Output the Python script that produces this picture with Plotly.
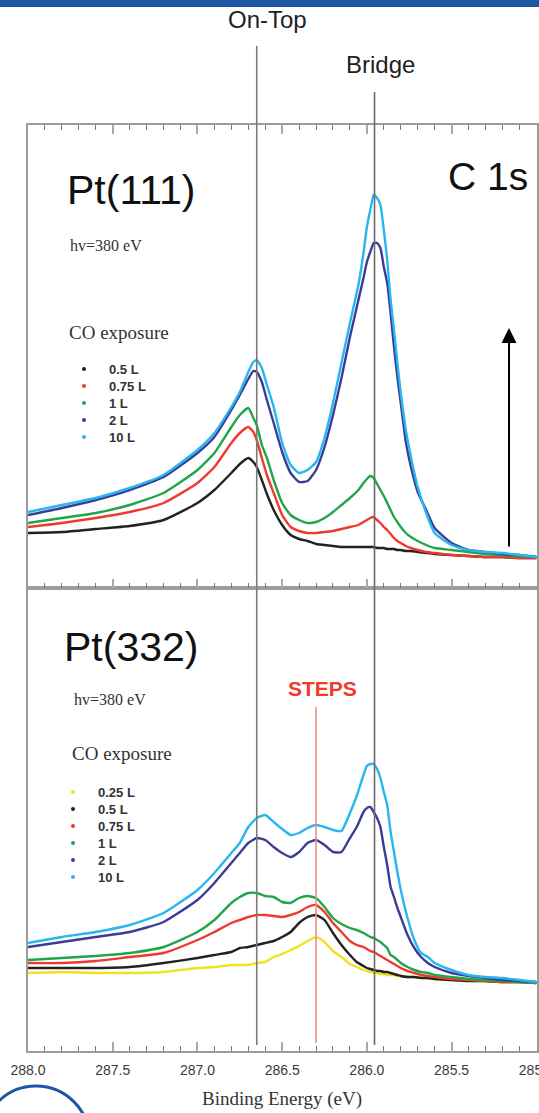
import plotly.graph_objects as go

# ---------------- data (binding energy in eV, intensity in a.u.) ----------------
be_111 = [288.0, 287.8, 287.6, 287.4, 287.2, 287.0, 286.9, 286.8, 286.75, 286.7,
          286.67, 286.65, 286.62, 286.59, 286.55, 286.5, 286.45, 286.4, 286.35, 286.3,
          286.25, 286.2, 286.15, 286.1, 286.05, 286.02, 286.0, 285.98, 285.96, 285.94,
          285.92, 285.9, 285.88, 285.86, 285.84, 285.82, 285.8, 285.77, 285.74, 285.7,
          285.65, 285.6, 285.5, 285.4, 285.3, 285.2, 285.1, 285.0]
pt111_05L = [55, 56, 59, 62, 68, 85, 98, 115, 124, 130, 126, 121, 108, 94, 78, 63, 53, 49, 47, 44,
             43, 42, 41, 41, 41, 41, 41, 41, 41, 40, 40, 40, 39, 39, 39, 38, 38, 37, 37, 36,
             35, 34, 33, 32, 31, 31, 30, 30]
pt111_075L = [61, 65, 70, 76, 85, 105, 121, 145, 155, 161, 156, 148, 130, 113, 95, 73, 61, 57, 55, 55,
              56, 57, 59, 61, 63, 66, 68, 70, 71, 68, 65, 61, 58, 54, 50, 47, 45, 42, 40, 38,
              36, 35, 33, 32, 31, 31, 30, 30]
pt111_1L = [65, 70, 75, 83, 95, 118, 135, 161, 173, 180, 170, 163, 143, 130, 108, 85, 73, 68, 65, 66,
            70, 76, 83, 90, 98, 105, 109, 112, 110, 104, 98, 92, 85, 78, 71, 66, 61, 55, 51, 47,
            43, 40, 38, 36, 34, 33, 32, 31]
pt111_2L = [73, 80, 88, 98, 111, 135, 151, 178, 193, 209, 217, 216, 206, 188, 165, 136, 115, 106, 107, 118,
            141, 173, 210, 251, 288, 310, 326, 336, 345, 345, 340, 321, 305, 275, 241, 211, 185, 146, 121, 96,
            78, 60, 45, 38, 36, 34, 33, 31]
pt111_10L = [76, 83, 90, 100, 113, 138, 155, 181, 196, 216, 226, 228, 220, 203, 181, 145, 123, 115, 118, 126,
             150, 185, 225, 265, 303, 335, 361, 378, 393, 390, 383, 358, 328, 288, 258, 225, 195, 158, 131, 101,
             75, 55, 43, 38, 36, 35, 33, 31]

be_332 = [288.0, 287.8, 287.6, 287.4, 287.2, 287.0, 286.9, 286.8, 286.75, 286.7,
          286.65, 286.6, 286.55, 286.5, 286.45, 286.4, 286.35, 286.3, 286.25, 286.2,
          286.15, 286.1, 286.06, 286.02, 286.0, 285.98, 285.96, 285.94, 285.92, 285.9,
          285.88, 285.86, 285.84, 285.82, 285.8, 285.76, 285.72, 285.68, 285.64, 285.6,
          285.5, 285.4, 285.3, 285.2, 285.1, 285.0]
pt332_025L = [78, 79, 78, 78, 79, 83, 84, 86, 86, 86, 88, 89, 94, 97, 101, 105, 110, 114, 109, 100,
              94, 87, 84, 81, 80, 79, 78, 78, 77, 77, 76, 76, 76, 75, 75, 74, 74, 73, 73, 72,
              71, 70, 70, 69, 69, 68]
pt332_05L = [83, 83, 83, 84, 88, 93, 96, 99, 103, 104, 106, 108, 110, 114, 119, 128, 134, 136, 131, 118,
             106, 96, 89, 85, 83, 82, 81, 80, 80, 79, 79, 78, 77, 76, 75, 74, 74, 73, 73, 72,
             71, 70, 70, 69, 69, 68]
pt332_075L = [88, 88, 90, 94, 98, 111, 119, 128, 131, 134, 136, 136, 135, 134, 136, 139, 144, 146, 139, 128,
              119, 110, 106, 104, 102, 100, 99, 97, 95, 93, 91, 89, 87, 85, 83, 80, 78, 76, 75, 74,
              72, 71, 70, 69, 69, 68]
pt332_1L = [91, 93, 95, 98, 104, 119, 131, 148, 154, 158, 158, 155, 154, 149, 148, 153, 155, 153, 144, 133,
            127, 123, 121, 118, 116, 114, 113, 111, 109, 106, 103, 96, 94, 91, 88, 84, 81, 79, 78, 76,
            74, 72, 71, 70, 69, 68]
pt332_2L = [104, 109, 114, 119, 129, 151, 168, 188, 198, 208, 213, 211, 204, 198, 194, 199, 208, 211, 206, 199,
            199, 213, 224, 239, 243, 244, 239, 233, 224, 204, 186, 164, 154, 143, 134, 116, 103, 94, 88, 84,
            78, 75, 73, 71, 70, 69]
pt332_10L = [108, 114, 119, 126, 138, 161, 178, 198, 208, 224, 233, 236, 229, 222, 216, 218, 223, 226, 224, 221,
             220, 238, 255, 276, 285, 287, 287, 282, 273, 259, 246, 219, 199, 179, 161, 133, 111, 98, 94, 88,
             81, 76, 74, 73, 71, 69]

labels_111 = ["0.5 L", "0.75 L", "1 L", "2 L", "10 L"]
labels_332 = ["0.25 L", "0.5 L", "0.75 L", "1 L", "2 L", "10 L"]
series_111 = [pt111_05L, pt111_075L, pt111_1L, pt111_2L, pt111_10L]
series_332 = [pt332_025L, pt332_05L, pt332_075L, pt332_1L, pt332_2L, pt332_10L]

be_ontop = 286.65
be_bridge = 285.955
be_steps = 286.30

COL = {"0.25 L": "#f2e21c", "0.5 L": "#222222", "0.75 L": "#ec3a2e",
       "1 L": "#20a548", "2 L": "#3a3c96", "10 L": "#27b6ee"}

# ---------------- layout helpers ----------------
W, H = 539, 1113
L, R, T, B = 28, 2, 125, 62
PW, PH = W - L - R, H - T - B


def px(x):
    return (x - L) / PW


def py(y):
    return (H - B - y) / PH


SANS = "Liberation Sans, Arial, sans-serif"
SERIF = "Liberation Serif, Times New Roman, serif"

fig = go.Figure()

for lab, vals in zip(labels_111, series_111):
    fig.add_trace(go.Scatter(x=be_111, y=vals, mode="lines", name=lab,
                             line=dict(color=COL[lab], width=2.4, shape="spline", smoothing=0.5),
                             xaxis="x2", yaxis="y2", showlegend=False))
for lab, vals in zip(labels_332, series_332):
    fig.add_trace(go.Scatter(x=be_332, y=vals, mode="lines", name=lab,
                             line=dict(color=COL[lab], width=2.4, shape="spline", smoothing=0.5),
                             xaxis="x", yaxis="y", showlegend=False))

frame = "#9c9c9c"
xcommon = dict(range=[288.0, 284.996], tick0=285.0, dtick=0.5, ticks="inside", ticklen=9,
               tickwidth=1.5, tickcolor="#aaaaaa", showline=True, linecolor=frame, linewidth=1.5,
               showgrid=False, zeroline=False, automargin=False,
               minor=dict(ticks="inside", dtick=0.1, ticklen=5, tickwidth=1, tickcolor="#777777"))
ycommon = dict(range=[0, 463], showline=True, linecolor=frame, linewidth=1.5, mirror=True,
               ticks="", showticklabels=False, showgrid=False, zeroline=False, automargin=False)

fig.update_layout(
    width=W, height=H, margin=dict(l=L, r=R, t=T, b=B, autoexpand=False),
    paper_bgcolor="white", plot_bgcolor="white",
    xaxis=dict(**xcommon, anchor="y", mirror=True, tickformat=".1f",
               tickfont=dict(family=SANS, size=14, color="#3a3a3a"), ticklabelstandoff=5,
               ticklabeloverflow="allow"),
    xaxis2=dict(**xcommon, anchor="y2", mirror="ticks", matches="x", showticklabels=False),
    yaxis=dict(**ycommon, domain=[0, 0.5]),
    yaxis2=dict(**ycommon, domain=[0.5, 1.0]),
)

shapes = []
# top blue bar and blue circle (slide decorations)
shapes.append(dict(type="rect", xref="paper", yref="paper", x0=px(-5), x1=px(W + 5),
                   y0=py(7), y1=py(-5), fillcolor="#1f55a5", line=dict(width=0), layer="above"))
shapes.append(dict(type="circle", xref="paper", yref="paper", x0=px(-17.5), x1=px(89.5),
                   y0=py(1193), y1=py(1086), line=dict(color="#1f55a5", width=3)))
# reference lines for adsorption sites
shapes.append(dict(type="line", xref="x", yref="paper", x0=be_ontop, x1=be_ontop,
                   y0=py(1045), y1=py(46), line=dict(color="#7a7a7a", width=1.6)))
shapes.append(dict(type="line", xref="x", yref="paper", x0=be_bridge, x1=be_bridge,
                   y0=py(1045), y1=py(92), line=dict(color="#6a6a6a", width=1.6)))
shapes.append(dict(type="line", xref="x", yref="paper", x0=be_steps, x1=be_steps,
                   y0=py(1043), y1=py(707), line=dict(color="#f08a8a", width=1.6)))

annotations = []


def text(x, y, s, size, family=SANS, color="#111111", xanchor="center", bold=False):
    if bold:
        s = "<b>" + s + "</b>"
    annotations.append(dict(x=px(x), y=py(y), xref="paper", yref="paper", text=s,
                            showarrow=False, xanchor=xanchor, yanchor="middle",
                            font=dict(family=family, size=size, color=color)))


text(267, 20, "On-Top", 24, color="#222222")
text(380, 64, "Bridge", 24, color="#222222")
text(131, 190, "Pt(111)", 41)
text(488, 176, "C 1s", 39)
text(68, 245, "hv=380 eV", 16, family=SERIF, color="#333333", xanchor="left")
text(67, 332, "CO exposure", 19, family=SERIF, color="#333333", xanchor="left")
text(131, 647, "Pt(332)", 41)
text(72, 699, "hv=380 eV", 16, family=SERIF, color="#333333", xanchor="left")
text(322, 688, "STEPS", 21, color="#f03a2a", bold=True)
text(70, 753, "CO exposure", 19, family=SERIF, color="#333333", xanchor="left")
text(282, 1099, "Binding Energy (eV)", 19, family=SERIF, color="#333333")

# legends (dot + label)
for i, lab in enumerate(labels_111):
    yy = 369 + i * 17
    shapes.append(dict(type="circle", xref="paper", yref="paper", x0=px(82), x1=px(86),
                       y0=py(yy + 2), y1=py(yy - 2), fillcolor=COL[lab], line=dict(width=0)))
    text(107, yy, lab, 13, color="#333333", xanchor="left", bold=True)
for i, lab in enumerate(labels_332):
    yy = 792 + i * 17
    shapes.append(dict(type="circle", xref="paper", yref="paper", x0=px(71), x1=px(75),
                       y0=py(yy + 2), y1=py(yy - 2), fillcolor=COL[lab], line=dict(width=0)))
    text(96, yy, lab, 13, color="#333333", xanchor="left", bold=True)

# upward arrow (increasing exposure)
annotations.append(dict(x=px(509), y=py(328), xref="paper", yref="paper", text="",
                        showarrow=True, ax=0, ay=220, arrowhead=2, arrowsize=1.5,
                        arrowwidth=2, arrowcolor="#000000", standoff=0))

fig.update_layout(shapes=shapes, annotations=annotations)
fig.write_html("out.html")
